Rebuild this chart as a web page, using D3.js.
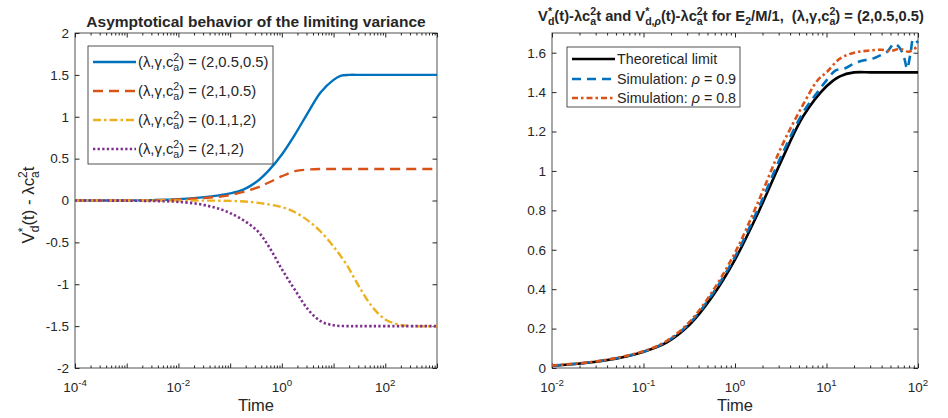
<!DOCTYPE html>
<html>
<head>
<meta charset="utf-8">
<script src="https://cdn.jsdelivr.net/npm/d3@7"></script>
<style>
    body { margin: 0; background: white; }
    text { font-family: "Liberation Sans", Arial, Helvetica, sans-serif; fill: #262626; white-space: pre; }
</style>
</head>
<body>
<div id="chartContainer"></div>
<script>
// left panel: V*_d(t) - lambda c_a^2 t, four parameter sets
var timeA = [1e-4, 1e-3, 3.2e-3, 1e-2, 3.2e-2, 0.056, 0.1, 0.18, 0.32, 0.56, 1, 1.8, 3.2, 5.6, 10, 14, 20, 32, 100, 1000];
var valA = [0, 0.001, 0.005, 0.015, 0.04, 0.058, 0.085, 0.13, 0.22, 0.36, 0.55, 0.79, 1.05, 1.29, 1.44, 1.49, 1.5, 1.5, 1.5, 1.5];

var timeB = [1e-4, 1e-3, 3.2e-3, 1e-2, 3.2e-2, 0.1, 0.32, 0.56, 1, 1.8, 3.2, 5.6, 10, 100, 1000];
var valB = [0, 0.001, 0.004, 0.012, 0.03, 0.065, 0.15, 0.215, 0.29, 0.35, 0.37, 0.376, 0.376, 0.376, 0.376];

var timeC = [1e-4, 1e-2, 0.1, 0.32, 1, 1.8, 3.2, 5.6, 10, 18, 32, 56, 100, 178, 316, 1000];
var valC = [0, -0.001, -0.005, -0.025, -0.08, -0.14, -0.24, -0.37, -0.55, -0.77, -1.04, -1.27, -1.42, -1.48, -1.5, -1.5];

var timeD = [1e-4, 1e-3, 3.2e-3, 1e-2, 3.2e-2, 0.1, 0.32, 0.56, 1, 1.8, 3.2, 5.6, 10, 18, 32, 100, 1000];
var valD = [0, -0.002, -0.006, -0.016, -0.055, -0.15, -0.35, -0.55, -0.82, -1.07, -1.3, -1.44, -1.49, -1.5, -1.5, -1.5, -1.5];

// right panel: theoretical limit and two simulations
var timeLim = [0.01, 0.018, 0.032, 0.056, 0.1, 0.18, 0.32, 0.56, 1, 1.8, 3.2, 5.6, 10, 14, 20, 32, 56, 100];
var valLim = [0.012, 0.02, 0.033, 0.052, 0.082, 0.13, 0.22, 0.36, 0.55, 0.79, 1.05, 1.28, 1.43, 1.48, 1.5, 1.5, 1.5, 1.5];

var timeSim9 = [0.01, 0.032, 0.1, 0.18, 0.32, 0.56, 1, 1.8, 3.2, 5.6, 8, 10, 12.6, 15.8, 20, 25, 32, 40, 46, 55, 63, 71, 76, 83, 89, 100];
var valSim9 = [0.012, 0.034, 0.083, 0.135, 0.228, 0.372, 0.565, 0.81, 1.075, 1.3, 1.4, 1.46, 1.51, 1.52, 1.545, 1.56, 1.57, 1.59, 1.605, 1.645, 1.625, 1.57, 1.52, 1.6, 1.67, 1.65];

var timeSim8 = [0.01, 0.032, 0.1, 0.18, 0.32, 0.56, 1, 1.8, 3.2, 5.6, 8, 10, 14, 20, 28, 40, 50, 63, 80, 100];
var valSim8 = [0.013, 0.035, 0.085, 0.138, 0.235, 0.385, 0.585, 0.845, 1.12, 1.34, 1.46, 1.5, 1.57, 1.6, 1.61, 1.615, 1.608, 1.62, 1.605, 1.635];

var leftYTicks = [-2, -1.5, -1, -0.5, 0, 0.5, 1, 1.5, 2];
var rightYTicks = [0, 0.2, 0.4, 0.6, 0.8, 1, 1.2, 1.4, 1.6];
var leftXLabels = [-4, -2, 0, 2];
var rightXLabels = [-2, -1, 0, 1, 2];

var axisColor = "#262626";
var fs = 13.5;

var svg = d3.select("#chartContainer")
    .append("svg")
    .attr("width", 948)
    .attr("height", 418);

function zip(ts, vs) {
    var out = [];
    for (var i = 0; i < ts.length; i++) out.push({ t: ts[i], v: vs[i] });
    return out;
}

// text with stacked super/subscripts, parts: [text, mode, italic]
function rich(g, x, y, parts, size, anchor, bold) {
    var t = g.append("text")
        .attr("x", x).attr("y", y)
        .attr("font-size", size)
        .attr("text-anchor", anchor || "start")
        .attr("font-weight", bold ? "bold" : "normal");
    var shift = 0, supLen = 0;
    parts.forEach(function (p) {
        var m = p[1] || "n";
        var target = m == "sup" ? -size * 0.42 : (m == "sub" || m == "stack") ? size * 0.3 : 0;
        var ts = t.append("tspan").text(p[0]).attr("dy", target - shift);
        shift = target;
        if (m != "n") ts.attr("font-size", size * 0.72);
        if (p[2]) ts.attr("font-style", "italic");
        if (m == "stack") ts.attr("dx", -supLen);
        if (m == "sup") supLen = ts.node().getComputedTextLength();
    });
    return t;
}

function logMinors(lo, hi) {
    var out = [];
    for (var e = lo; e < hi; e++)
        for (var k = 2; k <= 9; k++) out.push(k * Math.pow(10, e));
    return out;
}

function drawFrame(x, y, yTicks, yFmt, majorExp, labelExp) {
    var x0 = x.range()[0], x1 = x.range()[1];
    var y0 = y.range()[0], y1 = y.range()[1];
    var majors = majorExp.map(function (e) { return Math.pow(10, e); });
    var minors = logMinors(majorExp[0], majorExp[majorExp.length - 1]);

    [[d3.axisBottom, y0], [d3.axisTop, y1]].forEach(function (a) {
        svg.append("g").attr("transform", "translate(0," + a[1] + ")")
            .call(a[0](x).tickValues(majors).tickSize(-4.5).tickFormat(""))
            .call(function (g) { g.select(".domain").remove(); g.selectAll("line").attr("stroke", axisColor); });
        svg.append("g").attr("transform", "translate(0," + a[1] + ")")
            .call(a[0](x).tickValues(minors).tickSize(-2.5).tickFormat(""))
            .call(function (g) { g.select(".domain").remove(); g.selectAll("line").attr("stroke", axisColor); });
    });

    svg.append("g").attr("transform", "translate(" + x0 + ",0)")
        .call(d3.axisLeft(y).tickValues(yTicks).tickSize(-4.5).tickPadding(6).tickFormat(yFmt))
        .call(function (g) {
            g.select(".domain").remove();
            g.selectAll("line").attr("stroke", axisColor);
            g.selectAll("text").attr("font-size", fs).attr("fill", axisColor)
                .attr("font-family", "Liberation Sans, Arial, sans-serif");
        });
    svg.append("g").attr("transform", "translate(" + x1 + ",0)")
        .call(d3.axisRight(y).tickValues(yTicks).tickSize(-4.5).tickFormat(""))
        .call(function (g) { g.select(".domain").remove(); g.selectAll("line").attr("stroke", axisColor); });

    svg.append("rect")
        .attr("x", x0).attr("y", y1)
        .attr("width", x1 - x0).attr("height", y0 - y1)
        .attr("fill", "none").attr("stroke", axisColor).attr("stroke-width", 0.8);

    labelExp.forEach(function (e) {
        rich(svg, x(Math.pow(10, e)), y0 + 24, [["10"], ["" + e, "sup"]], fs, "middle");
    });
    svg.append("text").attr("x", (x0 + x1) / 2).attr("y", y0 + 43)
        .attr("text-anchor", "middle").attr("font-size", 16.5).text("Time");
}

function drawLine(x, y, data, color, dash, w) {
    var line = d3.line()
        .x(function (d) { return x(d.t); })
        .y(function (d) { return y(d.v); })
        .curve(d3.curveCatmullRom.alpha(0.5));
    svg.append("path")
        .datum(data)
        .attr("fill", "none")
        .attr("stroke", color)
        .attr("stroke-width", w)
        .attr("stroke-dasharray", dash)
        .attr("d", line);
}

function drawLegend(bx, by, bw, bh, items, rowY, sx0, sx1, size) {
    svg.append("rect")
        .attr("x", bx).attr("y", by).attr("width", bw).attr("height", bh)
        .attr("fill", "white").attr("stroke", axisColor).attr("stroke-width", 0.8);
    items.forEach(function (it, i) {
        svg.append("line")
            .attr("x1", sx0).attr("x2", sx1).attr("y1", rowY[i]).attr("y2", rowY[i])
            .attr("stroke", it.color).attr("stroke-width", it.w).attr("stroke-dasharray", it.dash);
        rich(svg, sx1 + 2, rowY[i] + 5, it.label, size, "start");
    });
}

// ---------------- left panel
var xL = d3.scaleLog().domain([1e-4, 1e3]).range([75, 437]);
var yL = d3.scaleLinear().domain([-2, 2]).range([368, 33]);

drawFrame(xL, yL, leftYTicks, function (d) { return "" + d; }, [-4, -3, -2, -1, 0, 1, 2, 3], leftXLabels);

var styles = [
    { color: "#0072BD", dash: null, w: 2.4 },
    { color: "#D95319", dash: "10,6", w: 2.4 },
    { color: "#EDB120", dash: "8,3,2.5,3", w: 2.4 },
    { color: "#7E2F8E", dash: "2.3,2.3", w: 2.6 }
];
drawLine(xL, yL, zip(timeA, valA), styles[0].color, styles[0].dash, styles[0].w);
drawLine(xL, yL, zip(timeB, valB), styles[1].color, styles[1].dash, styles[1].w);
drawLine(xL, yL, zip(timeC, valC), styles[2].color, styles[2].dash, styles[2].w);
drawLine(xL, yL, zip(timeD, valD), styles[3].color, styles[3].dash, styles[3].w);

var paramLabels = ["(2,0.5,0.5)", "(2,1,0.5)", "(0.1,1,2)", "(2,1,2)"];
drawLegend(88, 46, 185, 118, paramLabels.map(function (p, i) {
    return {
        color: styles[i].color, dash: styles[i].dash, w: styles[i].w,
        label: [["(\u03bb,\u03b3,c"], ["2", "sup"], ["a", "stack"], [") = " + p]]
    };
}), [62, 91, 120, 149], 93, 136, 14.8);

rich(svg, 256, 27, [["Asymptotical behavior of the limiting variance"]], 15.5, "middle", true);

var yLab = svg.append("g").attr("transform", "translate(34,205) rotate(-90)");
rich(yLab, 0, 0, [["V"], ["*", "sup"], ["d", "stack"], ["(t) - \u03bbc"], ["2", "sup"], ["a", "stack"], ["t"]], 16.8, "middle");

// ---------------- right panel
var xR = d3.scaleLog().domain([1e-2, 1e2]).range([552, 918]);
var yR = d3.scaleLinear().domain([0, 1.7]).range([368, 33]);

drawFrame(xR, yR, rightYTicks, function (d) { return d == 0 || d == 1 ? "" + d : d.toFixed(1); }, [-2, -1, 0, 1, 2], rightXLabels);

var rStyles = [
    { color: "#000000", dash: null, w: 2.6 },
    { color: "#0072BD", dash: "9,6", w: 2.6 },
    { color: "#D95319", dash: "6,3,2.5,3", w: 2.6 }
];
drawLine(xR, yR, zip(timeLim, valLim), rStyles[0].color, rStyles[0].dash, rStyles[0].w);
drawLine(xR, yR, zip(timeSim9, valSim9), rStyles[1].color, rStyles[1].dash, rStyles[1].w);
drawLine(xR, yR, zip(timeSim8, valSim8), rStyles[2].color, rStyles[2].dash, rStyles[2].w);

var simLabels = [
    [["Theoretical limit"]],
    [["Simulation: "], ["\u03c1", "n", true], [" = 0.9"]],
    [["Simulation: "], ["\u03c1", "n", true], [" = 0.8"]]
];
drawLegend(567, 47, 173, 60, rStyles.map(function (s, i) {
    return { color: s.color, dash: s.dash, w: s.w, label: simLabels[i] };
}), [59, 79, 98], 572, 615, 14.3);

rich(svg, 731, 21, [
    ["V"], ["*", "sup"], ["d", "stack"], ["(t)-\u03bbc"], ["2", "sup"], ["a", "stack"],
    ["t and V"], ["*", "sup"], ["d,", "stack"], ["\u03c1", "sub", true], ["(t)-\u03bbc"], ["2", "sup"], ["a", "stack"],
    ["t for E"], ["2", "sub"], ["/M/1,  (\u03bb,\u03b3,c"], ["2", "sup"], ["a", "stack"], [") = (2,0.5,0.5)"]
], 14.7, "middle", true);
</script>
</body>
</html>
